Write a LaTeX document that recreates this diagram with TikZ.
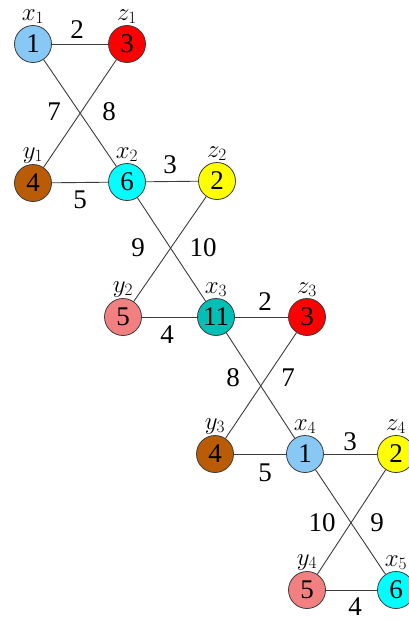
\documentclass[tikz,border=0pt]{standalone}
\usepackage{fontspec}
\setmainfont{Liberation Serif}
\definecolor{ltblue}{RGB}{135,200,245}
\definecolor{vred}{RGB}{255,0,0}
\definecolor{vbrown}{RGB}{185,92,5}
\definecolor{vcyan}{RGB}{0,255,255}
\definecolor{vyellow}{RGB}{255,255,0}
\definecolor{vpink}{RGB}{242,128,128}
\definecolor{vteal}{RGB}{0,192,182}
\definecolor{edgegray}{RGB}{60,60,60}
\tikzset{
  vert/.style={circle, draw=edgegray, line width=0.8pt, minimum size=37pt, inner sep=0pt,
    font=\fontsize{27}{30}\selectfont, label distance=-7pt},
  wt/.style={font=\fontsize{27}{30}\selectfont, inner sep=0pt},
  ed/.style={draw=edgegray, line width=0.9pt},
  every label/.style={font=\fontsize{26}{29}\selectfont, inner sep=1pt}
}
\begin{document}
\begin{tikzpicture}[x=1pt,y=-1pt]
\useasboundingbox (0,0) rectangle (409,621);
% vertices
\node[vert, fill=ltblue, label=above:$x_1$] (x1) at (33,44) {1};
\node[vert, fill=vred, label=above:$z_1$] (z1) at (127,44) {3};
\node[vert, fill=vbrown, label=above:$y_1$] (y1) at (33,183) {4};
\node[vert, fill=vcyan, label=above:$x_2$] (x2) at (127,182) {6};
\node[vert, fill=vyellow, label=above:$z_2$] (z2) at (217,181) {2};
\node[vert, fill=vpink, label=above:$y_2$] (y2) at (123,317) {5};
\node[vert, fill=vteal, label=above:$x_3$] (x3) at (216,317) {11};
\node[vert, fill=vred, label=above:$z_3$] (z3) at (307,317) {3};
\node[vert, fill=vbrown, label=above:$y_3$] (y3) at (215,454) {4};
\node[vert, fill=ltblue, label=above:$x_4$] (x4) at (305,454) {1};
\node[vert, fill=vyellow, label=above:$z_4$] (z4) at (396,454) {2};
\node[vert, fill=vpink, label=above:$y_4$] (y4) at (307,590) {5};
\node[vert, fill=vcyan, label=above:$x_5$] (x5) at (396,590) {6};
% edges
\draw[ed] (x1) -- (z1);
\draw[ed] (x1) -- (x2);
\draw[ed] (z1) -- (y1);
\draw[ed] (y1) -- (x2);
\draw[ed] (x2) -- (z2);
\draw[ed] (x2) -- (x3);
\draw[ed] (z2) -- (y2);
\draw[ed] (y2) -- (x3);
\draw[ed] (x3) -- (z3);
\draw[ed] (x3) -- (x4);
\draw[ed] (z3) -- (y3);
\draw[ed] (y3) -- (x4);
\draw[ed] (x4) -- (z4);
\draw[ed] (x4) -- (x5);
\draw[ed] (z4) -- (y4);
\draw[ed] (y4) -- (x5);
% weights
\node[wt] (w1) at (77,30) {2};
\node[wt] (w2) at (54,112) {7};
\node[wt] (w3) at (109,112) {8};
\node[wt] (w4) at (80,200) {5};
\node[wt] (w5) at (170,165) {3};
\node[wt] (w6) at (138,248) {9};
\node[wt] (w7) at (203,248) {10};
\node[wt] (w8) at (167,335) {4};
\node[wt] (w9) at (265,302) {2};
\node[wt] (w10) at (233,378) {8};
\node[wt] (w11) at (288,378) {7};
\node[wt] (w12) at (265,473) {5};
\node[wt] (w13) at (350,442) {3};
\node[wt] (w14) at (322,523) {10};
\node[wt] (w15) at (377,523) {9};
\node[wt] (w16) at (355,607) {4};
\end{tikzpicture}
\end{document}
